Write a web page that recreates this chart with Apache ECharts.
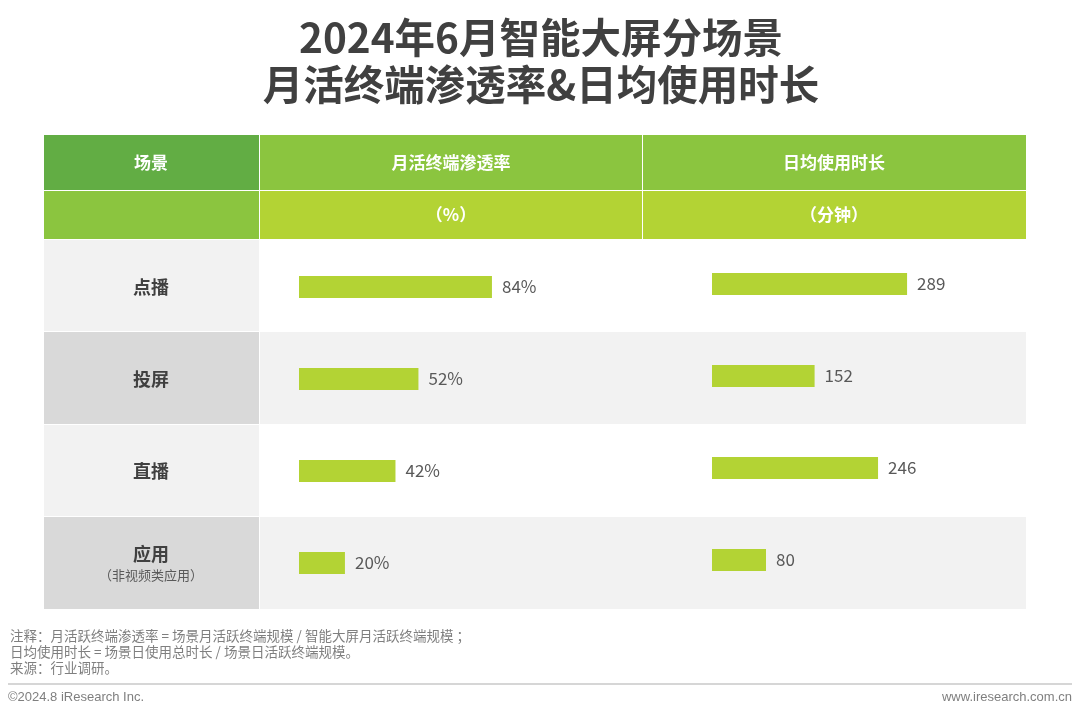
<!DOCTYPE html>
<html>
<head>
<meta charset="utf-8">
<script src="https://cdn.jsdelivr.net/npm/echarts@6/dist/echarts.min.js"></script>
<style>
  html, body { margin: 0; padding: 0; background: #fff; }
  #main { width: 1080px; height: 712px; }
</style>
</head>
<body>
<div id="main"></div>
<script>
var scenes = ['点播', '投屏', '直播', '应用'];
var penetration = [84, 52, 42, 20];   // 月活终端渗透率 (%)
var dailyMinutes = [289, 152, 246, 80]; // 日均使用时长 (分钟)

var titleLines = ['2024年6月智能大屏分场景', '月活终端渗透率&日均使用时长'];
var notes = [
	'注释：月活跃终端渗透率 = 场景月活跃终端规模 / 智能大屏月活跃终端规模 ；',
	'日均使用时长 = 场景日使用总时长 / 场景日活跃终端规模。',
	'来源：行业调研。'
];

var myChart = echarts.init(document.getElementById('main'));

var CJK = '"Noto Sans CJK SC", "Noto Sans", sans-serif';
var barColor = '#b3d334';

// 表格背景
var graphics = [];
function rect(x, y, w, h, color) {
	graphics.push({ type: 'rect', z: -10, shape: { x: x, y: y, width: w, height: h }, style: { fill: color } });
}
function text(x, y, t, size, color, weight, align, font) {
	graphics.push({
		type: 'text', x: x, y: y,
		style: {
			text: t, fill: color, fontSize: size, fontWeight: weight || 'normal',
			fontFamily: font || CJK, align: align || 'center', verticalAlign: 'middle'
		}
	});
}
var cols = [[44, 215], [260, 382], [643, 383]];
rect(cols[0][0], 135, cols[0][1], 55, '#62ad44');
rect(cols[1][0], 135, cols[1][1], 55, '#8bc53f');
rect(cols[2][0], 135, cols[2][1], 55, '#8bc53f');
rect(cols[0][0], 191, cols[0][1], 48, '#8bc53f');
rect(cols[1][0], 191, cols[1][1], 48, '#b3d334');
rect(cols[2][0], 191, cols[2][1], 48, '#b3d334');
var rowTops = [240, 332, 425, 517];
var rowH = [91, 92, 91, 92];
for (var i = 0; i < 4; i++) {
	var odd = i % 2 == 1;
	rect(cols[0][0], rowTops[i], cols[0][1], rowH[i], odd ? '#d9d9d9' : '#f2f2f2');
	rect(cols[1][0], rowTops[i], cols[1][1] + 1 + cols[2][1], rowH[i], odd ? '#f2f2f2' : '#ffffff');
}
text(151, 163, '场景', 17, '#fff', 'bold');
text(451, 163, '月活终端渗透率', 17, '#fff', 'bold');
text(834, 163, '日均使用时长', 17, '#fff', 'bold');
text(451, 215, '（%）', 17, '#fff', 'bold');
text(834, 215, '（分钟）', 17, '#fff', 'bold');

text(541, 38, titleLines[0], 40.5, '#404040', 'bold');
text(541, 85, titleLines[1], 40.5, '#404040', 'bold');

for (var j = 0; j < notes.length; j++) {
	text(10, 636 + j * 16, notes[j], 13.5, '#7f7f7f', 'normal', 'left');
}
graphics.push({ type: 'line', shape: { x1: 8, y1: 684, x2: 1072, y2: 684 }, style: { stroke: '#c8c8c8', lineWidth: 1.5 } });
text(8, 697, '©2024.8 iResearch Inc.', 13, '#7f7f7f', 'normal', 'left', 'Arial, "Liberation Sans", sans-serif');
text(1072, 697, 'www.iresearch.com.cn', 13, '#7f7f7f', 'normal', 'right', 'Arial, "Liberation Sans", sans-serif');

var option = {
	animation: false,
	graphic: graphics,
	grid: [
		{ left: 299, top: 241, width: 229.7, height: 368 },
		{ left: 712, top: 238, width: 202.5, height: 368 }
	],
	xAxis: [
		{ gridIndex: 0, type: 'value', min: 0, max: 100, show: false },
		{ gridIndex: 1, type: 'value', min: 0, max: 300, show: false }
	],
	yAxis: [
		{
			gridIndex: 0, type: 'category', inverse: true, data: scenes,
			axisLine: { show: false }, axisTick: { show: false },
			axisLabel: {
				margin: 148, align: 'center',
				formatter: function(v) {
					if (v == '应用') return '{main|应用}\n{sub|（非视频类应用）}';
					return '{main|' + v + '}';
				},
				rich: {
					main: { fontSize: 18, fontWeight: 'bold', color: '#404040', fontFamily: CJK, lineHeight: 24 },
					sub: { fontSize: 13, color: '#595959', fontFamily: CJK, lineHeight: 18 }
				}
			}
		},
		{
			gridIndex: 1, type: 'category', inverse: true, data: scenes,
			axisLine: { show: false }, axisTick: { show: false }, axisLabel: { show: false }
		}
	],
	series: [
		{
			name: '月活终端渗透率', type: 'bar', xAxisIndex: 0, yAxisIndex: 0,
			data: penetration, barWidth: 22,
			itemStyle: { color: barColor },
			label: { show: true, position: 'right', distance: 10, formatter: '{c}%', color: '#595959', fontSize: 17, fontFamily: CJK }
		},
		{
			name: '日均使用时长', type: 'bar', xAxisIndex: 1, yAxisIndex: 1,
			data: dailyMinutes, barWidth: 22,
			itemStyle: { color: barColor },
			label: { show: true, position: 'right', distance: 10, formatter: '{c}', color: '#595959', fontSize: 17, fontFamily: CJK }
		}
	]
};

myChart.setOption(option);
</script>
</body>
</html>
